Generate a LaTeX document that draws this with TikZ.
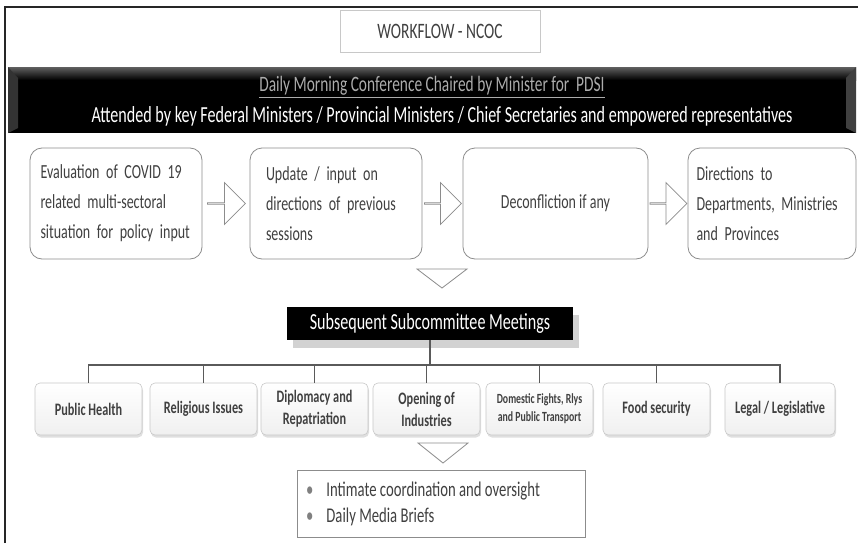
\documentclass[tikz,border=0pt]{standalone}
\usepackage{fontspec}
\setmainfont{Carlito}[FakeStretch=0.7]
\usetikzlibrary{calc,shadows,shapes.arrows}
\definecolor{txt}{HTML}{404040}
\definecolor{edge}{HTML}{8C8C8C}
\definecolor{lightedge}{HTML}{C8C8C8}
\definecolor{bustone}{HTML}{5A5A5A}
\begin{document}
\begin{tikzpicture}[x=1pt,y=-1pt,
  titlebox/.style={draw=lightedge,line width=0.8pt,fill=white,minimum width=200pt,minimum height=42pt,inner sep=0pt,text=txt,font=\fontsize{22}{24}\selectfont,drop shadow={shadow xshift=0pt,shadow yshift=-1.5pt,opacity=0.3,fill=gray}},
  topbox/.style={draw=edge,line width=0.8pt,rounded corners=12pt,fill=white,minimum height=111pt,inner sep=0pt,text=txt,font=\fontsize{20}{30}\selectfont,align=left},
  barrow/.style={single arrow,draw=edge,line width=0.8pt,fill=white,minimum width=42pt,single arrow head extend=10pt,inner sep=0pt},
  tri/.style={draw=edge,line width=0.8pt,fill=white},
  subbox/.style={fill=black,text=white,minimum width=286pt,minimum height=33pt,inner sep=0pt,font=\fontsize{23}{25}\selectfont,drop shadow={shadow xshift=6pt,shadow yshift=-8pt,opacity=0.35,fill=gray}},
  sbox/.style={draw=lightedge,line width=0.6pt,rounded corners=5pt,top color=white,bottom color=gray!12,minimum height=52pt,inner sep=0pt,text=txt,align=center,font=\bfseries\fontsize{17.5}{22}\selectfont,drop shadow={shadow xshift=1pt,shadow yshift=-2.5pt,opacity=0.25,fill=gray}},
  bus/.style={draw=bustone,line width=1.4pt},
  bulletbox/.style={draw=edge,line width=0.8pt,fill=white,minimum width=288pt,minimum height=67pt,inner sep=0pt}
]
\useasboundingbox (0,0) rectangle (858,543);
\fill[white] (0,0) rectangle (858,543);
% frame
\draw[line width=2pt,black!85] (5,543) -- (5,7) -- (858,7);

% title
\node[titlebox] (title) at (440,31) {WORKFLOW - NCOC};

% banner
\fill[black] (8,67) rectangle (856,133);
\shade[top color=gray!75!black,bottom color=black] (8,67) rectangle (856,80);
\fill[gray!40!black] (8,67) -- (18,78) -- (18,128) -- (8,133) -- cycle;
\fill[gray!50!black] (856,67) -- (846,78) -- (846,128) -- (856,133) -- cycle;
\node[text=gray!65,font=\fontsize{22}{24}\selectfont] (conf) at (432,87) {\underline{Daily Morning Conference Chaired by Minister for\ \ PDSI}};
\node[text=white,font=\fontsize{23}{25}\selectfont] (att) at (442,116) {Attended by key Federal Ministers / Provincial Ministers / Chief Secretaries and empowered representatives};

% first row
\node[topbox,minimum width=172pt,text width=151pt] (b1) at (116,203.5)
  {\makebox[151pt][s]{Evaluation of COVID 19}\\\makebox[151pt][s]{related multi-sectoral}\\situation for policy input};
\node[topbox,minimum width=172pt,text width=140pt] (b2) at (336,203.5)
  {\makebox[140pt][s]{Update / input on}\\\makebox[140pt][s]{directions of previous}\\sessions};
\node[topbox,minimum width=185pt,align=center] (b3) at (555.5,203.5) {Deconfliction if any};
\node[topbox,minimum width=168pt,text width=151pt] (b4) at (772,203.5)
  {\makebox[151pt][s]{Directions to}\\\makebox[151pt][s]{Departments, Ministries}\\and Provinces};

\node[barrow,minimum height=38pt] (a1) at ($(b1.east)!0.5!(b2.west)$) {};
\node[barrow,minimum height=37pt] (a2) at ($(b2.east)!0.5!(b3.west)$) {};
\node[barrow,minimum height=37pt] (a3) at ($(b3.east)!0.5!(b4.west)$) {};

% triangle 1
\coordinate (t1) at (442,269);
\draw[tri] (t1) ++(-25,0) -- ++(50,0) -- ++(-25,19) -- cycle;

% subcommittee
\node[subbox] (sub) at (430,323.5) {Subsequent Subcommittee Meetings};

\node[sbox,minimum width=107pt] (ph) at (88.5,409) {Public Health};
\node[sbox,minimum width=107pt] (rel) at (203.5,409) {Religious Issues};
\node[sbox,minimum width=107pt] (dip) at (314.5,409) {Diplomacy and\\Repatriation};
\node[sbox,minimum width=107pt] (opn) at (426.5,409) {Opening of\\Industries};
\node[sbox,minimum width=107pt,font=\bfseries\fontsize{14}{18}\selectfont] (dom) at (539.5,409) {Domestic Fights, Rlys\\and Public Transport};
\node[sbox,minimum width=107pt] (food) at (656.5,409) {Food security};
\node[sbox,minimum width=110pt] (leg) at (780,409) {Legal / Legislative};

\coordinate (busy) at (0,365);
\draw[bus] (sub.south) -- (sub.south |- busy);
\draw[bus] (ph.north) -- (ph.north |- busy) -- (leg.north |- busy) -- (leg.north);
\foreach \n in {rel,dip,opn,dom,food}{\draw[bus] (\n.north) -- (\n.north |- busy);}

% triangle 2
\coordinate (t2) at (443,443);
\draw[tri] (t2) ++(-25,0) -- ++(50,0) -- ++(-25,20) -- cycle;

% bullets
\node[bulletbox] (bl) at (441,503.5) {};
\node[anchor=west,align=left,text=txt,font=\fontsize{21}{26}\selectfont] (bltext) at ($(bl.west)+(6,0)$)
  {{\color{gray}\textbullet}\hspace{13pt}Intimate coordination and oversight\\{\color{gray}\textbullet}\hspace{13pt}Daily Media Briefs};
\end{tikzpicture}
\end{document}
